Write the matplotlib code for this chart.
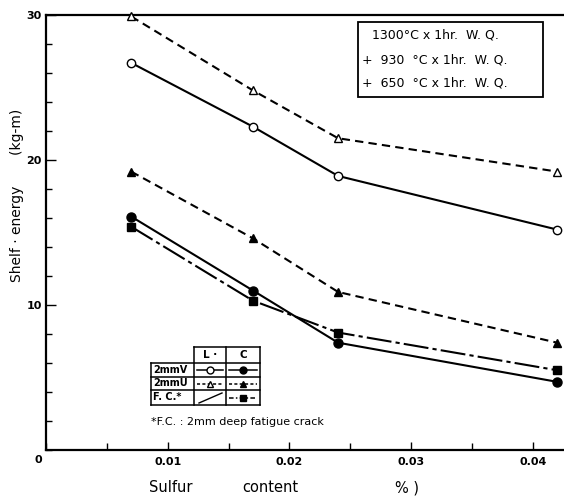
import matplotlib
matplotlib.use("Agg")
import matplotlib.pyplot as plt
from matplotlib.lines import Line2D
from matplotlib.patches import Rectangle
from matplotlib.ticker import MultipleLocator, FixedLocator

# ---- data ----
sulfur = [0.007, 0.017, 0.024, 0.042]
L_2mmV = [26.7, 22.3, 18.9, 15.2]
L_2mmU = [29.9, 24.8, 21.5, 19.2]
C_2mmV = [16.1, 11.0, 7.4, 4.7]
C_2mmU = [19.2, 14.6, 10.9, 7.4]
C_FC = [15.4, 10.3, 8.1, 5.5]

x_ticklabels = ["0.01", "0.02", "0.03", "0.04"]
y_ticklabels = ["10", "20", "30"]
treatment_lines = ["1300°C x 1hr.  W. Q.",
                   "+  930  °C x 1hr.  W. Q.",
                   "+  650  °C x 1hr.  W. Q."]
footnote = "*F.C. : 2mm deep fatigue crack"

W, H = 564, 499
fig = plt.figure(figsize=(W / 100, H / 100), dpi=100)
plt.rcParams['font.family'] = ['DejaVu Sans']

def fx(px):
    return px / W

def fy(py):
    return 1 - py / H

ax = fig.add_axes([fx(46), fy(450), fx(564) - fx(46), fy(15) - fy(450)])
ax.set_xlim(0, (564 - 46) / 12171)
ax.set_ylim(0, 30)

lw = 1.5
ax.plot(sulfur, L_2mmU, color='black', lw=lw, dashes=(4, 2.5), marker='^',
        mfc='white', mec='black', ms=5.5, mew=1.0, clip_on=False, zorder=3)
ax.plot(sulfur, L_2mmV, color='black', lw=lw, ls='-', marker='o',
        mfc='white', mec='black', ms=6, mew=1.0, clip_on=False, zorder=3)
ax.plot(sulfur, C_2mmU, color='black', lw=lw, dashes=(4, 2.5), marker='^',
        mfc='black', mec='black', ms=5.5, clip_on=False, zorder=3)
ax.plot(sulfur, C_2mmV, color='black', lw=lw, ls='-', marker='o',
        mfc='black', mec='black', ms=6.5, clip_on=False, zorder=3)
ax.plot(sulfur, C_FC, color='black', lw=lw, dashes=(12, 2, 2, 2), marker='s',
        mfc='black', mec='black', ms=5.5, clip_on=False, zorder=3)

# spines
ax.spines['right'].set_visible(False)
for s in ['left', 'bottom', 'top']:
    ax.spines[s].set_linewidth(1.6)

# ticks
ax.xaxis.set_major_locator(FixedLocator([0.01, 0.02, 0.03, 0.04]))
ax.xaxis.set_minor_locator(MultipleLocator(0.005))
ax.set_xticklabels(x_ticklabels)
ax.yaxis.set_major_locator(FixedLocator([10, 20, 30]))
ax.yaxis.set_minor_locator(MultipleLocator(2))
ax.set_yticklabels(y_ticklabels)
ax.tick_params(axis='both', which='both', direction='in', top=False, right=False,
               width=1.0, labelsize=8)
ax.tick_params(axis='x', which='major', length=6, pad=5)
ax.tick_params(axis='x', which='minor', length=5)
ax.tick_params(axis='y', which='major', length=7, pad=3)
ax.tick_params(axis='y', which='minor', length=4)
for t in ax.get_xticklabels() + ax.get_yticklabels():
    t.set_fontweight('bold')

fig.text(fx(38), fy(460), "0", fontsize=8, fontweight='bold', ha='center', va='center')

# axis labels
fig.text(fx(17), fy(195), "Shelf · energy       (kg-m)", rotation=90, fontsize=10,
         ha='center', va='center')
fig.text(fx(171), fy(488), "Sulfur", fontsize=10.5, ha='center', va='center')
fig.text(fx(270), fy(488), "content", fontsize=10.5, ha='center', va='center')
fig.text(fx(407), fy(488), "% )", fontsize=10.5, ha='center', va='center')

# treatment box
fig.add_artist(Rectangle((fx(358), fy(97)), fx(543) - fx(358), fy(22) - fy(97),
                         fill=False, ec='black', lw=1.3, transform=fig.transFigure))
fig.text(fx(372), fy(35), treatment_lines[0], fontsize=9, ha='left', va='center')
fig.text(fx(362), fy(60), treatment_lines[1], fontsize=9, ha='left', va='center')
fig.text(fx(362), fy(83), treatment_lines[2], fontsize=9, ha='left', va='center')

# legend table
def fline(xs, ys, **kw):
    fig.add_artist(Line2D([fx(v) for v in xs], [fy(v) for v in ys],
                          transform=fig.transFigure, color='black', **kw))

cx = [151, 194, 226, 260]
ry = [347, 363, 377, 390, 405]
tlw = 1.1
fline([cx[1], cx[3]], [ry[0], ry[0]], lw=tlw)
for y in ry[1:]:
    fline([cx[0], cx[3]], [y, y], lw=tlw)
fline([cx[0], cx[0]], [ry[1], ry[4]], lw=tlw)
for x in cx[1:]:
    fline([x, x], [ry[0], ry[4]], lw=tlw)

fig.text(fx((cx[1] + cx[2]) / 2), fy((ry[0] + ry[1]) / 2), "L ·", fontsize=7.5,
         fontweight='bold', ha='center', va='center')
fig.text(fx((cx[2] + cx[3]) / 2), fy((ry[0] + ry[1]) / 2), "C", fontsize=7.5,
         fontweight='bold', ha='center', va='center')
row_labels = ["2mmV", "2mmU", "F. C.*"]
for i, lab in enumerate(row_labels):
    fig.text(fx(cx[0] + 2), fy((ry[i + 1] + ry[i + 2]) / 2), lab, fontsize=7,
             fontweight='bold', ha='left', va='center')

def sample(col, row, marker, mfc, dashes=None):
    x0, x1 = cx[col] + 3, cx[col + 1] - 3
    yc = (ry[row + 1] + ry[row + 2]) / 2
    if dashes is not None:
        fline([x0, x1], [yc, yc], lw=1.1, dashes=dashes)
    else:
        fline([x0, x1], [yc, yc], lw=1.1, ls='-')
    fline([(x0 + x1) / 2], [yc], lw=0, marker=marker, mfc=mfc, mec='black', ms=5)

sample(1, 0, 'o', 'white')
sample(2, 0, 'o', 'black')
sample(1, 1, '^', 'white', dashes=(2, 1.5))
sample(2, 1, '^', 'black', dashes=(2, 1.5))
sample(2, 2, 's', 'black', dashes=(3, 1.5, 1, 1.5))
fline([cx[1] + 5, cx[2] - 4], [ry[4] - 2, ry[3] + 3], lw=1.0)

fig.text(fx(151), fy(422), footnote, fontsize=8, ha='left', va='center')

fig.savefig("out.png", dpi=100)
